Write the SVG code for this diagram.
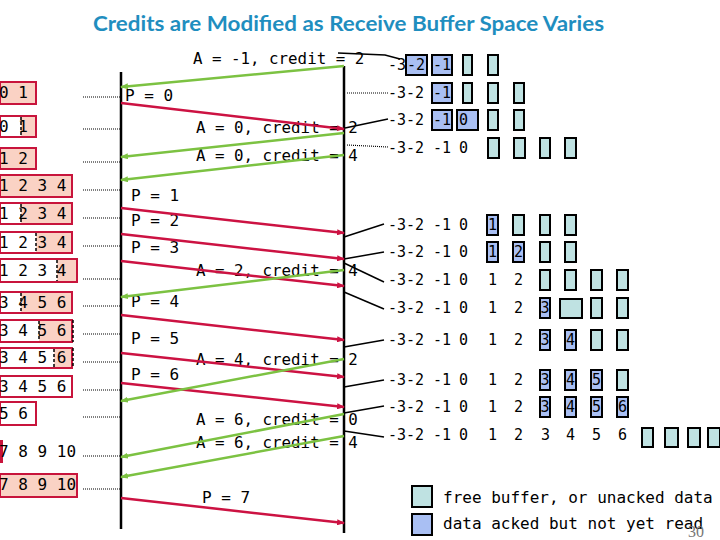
<svg xmlns="http://www.w3.org/2000/svg" width="720" height="540" viewBox="0 0 720 540">
<defs>
<style>
.t{font-family:"DejaVu Sans Mono","Liberation Mono",monospace;fill:#000}
.l16{font-size:16px}
.a{font-size:15.8px}
.r{font-size:15px}
.sal{fill:#fad2c4;stroke:none}
.wh{fill:#fff;stroke:none}
.bd{fill:none;stroke:#c8143c;stroke-width:2}
.dv{stroke:#000;stroke-width:1.5;stroke-dasharray:3 2}
.cy{fill:#bfe2e2;stroke:#000;stroke-width:2}
.bl{fill:#a9bff3;stroke:#000;stroke-width:2}
.dot{stroke:#000;stroke-width:1.2;stroke-dasharray:1 1;fill:none}
.red{stroke:#cc1242;stroke-width:2.5;fill:none;marker-end:url(#ar)}
.grn{stroke:#7cc242;stroke-width:2.5;fill:none;marker-end:url(#ag)}
.blk{stroke:#000;stroke-width:1.5;fill:none}
.tl{stroke:#000;stroke-width:2.5}
</style>
<marker id="ar" viewBox="0 0 8 6" refX="7" refY="3" markerWidth="8" markerHeight="6" markerUnits="userSpaceOnUse" orient="auto"><path d="M0,0 L8,3 L0,6 z" fill="#cc1242"/></marker>
<marker id="ag" viewBox="0 0 8 6" refX="7" refY="3" markerWidth="8" markerHeight="6" markerUnits="userSpaceOnUse" orient="auto"><path d="M0,0 L8,3 L0,6 z" fill="#7cc242"/></marker>
</defs>
<rect width="720" height="540" fill="#fff"/>
<text x="348.5" y="31" text-anchor="middle" textLength="511" lengthAdjust="spacingAndGlyphs" font-family="Lato,'Open Sans',sans-serif" font-weight="bold" font-size="21" fill="#1f8ebf">Credits are Modified as Receive Buffer Space Varies</text>

<g id="timelines">
<line class="tl" x1="121" y1="72" x2="121" y2="529"/>
<line class="tl" x1="344" y1="66" x2="344" y2="533"/>
</g>

<g id="sender-buffers">
<g id="sb1"><rect class="sal" x="0" y="82" width="36" height="22"/><rect class="bd" x="0" y="82" width="36" height="22"/><text class="t l16" x="-1" y="98">0 1</text></g>
<g id="sb2"><rect class="wh" x="0" y="116" width="21" height="21"/><rect class="sal" x="21" y="116" width="15" height="21"/><rect class="bd" x="0" y="116" width="36" height="21"/><line class="dv" x1="21" y1="117" x2="21" y2="136"/><text class="t l16" x="-1" y="131.5">0 1</text></g>
<g id="sb3"><rect class="sal" x="0" y="148" width="36" height="21"/><rect class="bd" x="0" y="148" width="36" height="21"/><text class="t l16" x="-1" y="164">1 2</text></g>
<g id="sb4"><rect class="sal" x="0" y="175" width="72" height="22"/><rect class="bd" x="0" y="175" width="72" height="22"/><text class="t l16" x="-1" y="191">1 2 3 4</text></g>
<g id="sb5"><rect class="wh" x="0" y="203" width="21" height="21"/><rect class="sal" x="21" y="203" width="51" height="21"/><rect class="bd" x="0" y="203" width="72" height="21"/><line class="dv" x1="21" y1="204" x2="21" y2="223"/><text class="t l16" x="-1" y="219">1 2 3 4</text></g>
<g id="sb6"><rect class="wh" x="0" y="232" width="36" height="21"/><rect class="sal" x="36" y="232" width="36" height="21"/><rect class="bd" x="0" y="232" width="72" height="21"/><line class="dv" x1="36" y1="233" x2="36" y2="252"/><text class="t l16" x="-1" y="248">1 2 3 4</text></g>
<g id="sb7"><rect class="wh" x="0" y="259" width="57" height="23"/><rect class="sal" x="57" y="259" width="20" height="23"/><rect class="bd" x="0" y="259" width="77" height="23"/><line class="dv" x1="57" y1="260" x2="57" y2="281"/><text class="t l16" x="-1" y="276">1 2 3 4</text></g>
<g id="sb8"><rect class="wh" x="0" y="292" width="21" height="21"/><rect class="sal" x="21" y="292" width="51" height="21"/><rect class="bd" x="0" y="292" width="72" height="21"/><line class="dv" x1="21" y1="293" x2="21" y2="312"/><text class="t l16" x="-1" y="308">3 4 5 6</text></g>
<g id="sb9"><rect class="wh" x="0" y="320" width="39" height="22"/><rect class="sal" x="39" y="320" width="33" height="22"/><rect class="bd" x="0" y="320" width="72" height="22"/><line class="dv" x1="39" y1="321" x2="39" y2="341"/><line class="dv" x1="73" y1="320" x2="73" y2="342"/><text class="t l16" x="-1" y="336">3 4 5 6</text></g>
<g id="sb10"><rect class="wh" x="0" y="348" width="54" height="20"/><rect class="sal" x="54" y="348" width="18" height="20"/><rect class="bd" x="0" y="348" width="72" height="20"/><line class="dv" x1="54" y1="349" x2="54" y2="367"/><line class="dv" x1="73" y1="348" x2="73" y2="368"/><text class="t l16" x="-1" y="363">3 4 5 6</text></g>
<g id="sb11"><rect class="wh" x="0" y="376" width="72" height="21"/><rect class="bd" x="0" y="376" width="72" height="21"/><text class="t l16" x="-1" y="392">3 4 5 6</text></g>
<g id="sb12"><rect class="wh" x="0" y="402" width="36" height="23"/><rect class="bd" x="0" y="402" width="36" height="23"/><text class="t l16" x="-1" y="419">5 6</text></g>
<g id="sb13"><rect x="0" y="440" width="3" height="23" fill="#c8143c"/><text class="t l16" x="-1" y="457">7 8 9 10</text></g>
<g id="sb14"><rect class="sal" x="0" y="474" width="77" height="23"/><rect class="bd" x="0" y="474" width="77" height="23"/><text class="t l16" x="-1" y="490">7 8 9 10</text></g>
</g>

<g id="sender-labels">
<text class="t l16" x="125" y="101">P = 0</text>
<text class="t l16" x="131" y="201">P = 1</text>
<text class="t l16" x="131" y="226">P = 2</text>
<text class="t l16" x="131" y="253">P = 3</text>
<text class="t l16" x="131" y="307">P = 4</text>
<text class="t l16" x="131" y="344">P = 5</text>
<text class="t l16" x="131" y="380">P = 6</text>
<text class="t l16" x="202" y="503">P = 7</text>
</g>

<g id="receiver-labels">
<text class="t a" x="193" y="64">A = -1, credit = 2</text>
<text class="t a" x="196" y="133">A = 0, credit = 2</text>
<text class="t a" x="196" y="161">A = 0, credit = 4</text>
<text class="t a" x="196" y="276">A = 2, credit = 4</text>
<text class="t a" x="196" y="365">A = 4, credit = 2</text>
<text class="t a" x="196" y="425">A = 6, credit = 0</text>
<text class="t a" x="196" y="448">A = 6, credit = 4</text>
</g>

<g id="connectors">
<g id="dotted-left">
<line class="dot" x1="83" y1="97" x2="121" y2="97"/>
<line class="dot" x1="83" y1="129" x2="121" y2="129"/>
<line class="dot" x1="83" y1="162" x2="121" y2="162"/>
<line class="dot" x1="83" y1="190" x2="121" y2="190"/>
<line class="dot" x1="83" y1="218" x2="121" y2="218"/>
<line class="dot" x1="83" y1="246" x2="121" y2="246"/>
<line class="dot" x1="83" y1="279" x2="121" y2="279"/>
<line class="dot" x1="83" y1="306" x2="121" y2="306"/>
<line class="dot" x1="83" y1="334" x2="121" y2="334"/>
<line class="dot" x1="83" y1="362" x2="121" y2="362"/>
<line class="dot" x1="83" y1="390" x2="121" y2="390"/>
<line class="dot" x1="83" y1="417" x2="121" y2="417"/>
<line class="dot" x1="83" y1="456" x2="121" y2="456"/>
<line class="dot" x1="83" y1="489" x2="121" y2="489"/>
</g>
<g id="right-links">
<polyline class="blk" points="338,53 385,55 400,59"/>
<line class="dot" x1="347" y1="93" x2="388" y2="93"/>
<line class="blk" x1="345" y1="128" x2="388" y2="119"/>
<line class="dot" x1="347" y1="145" x2="388" y2="147"/>
<line class="blk" x1="344" y1="237" x2="384" y2="224"/>
<line class="blk" x1="344" y1="259" x2="384" y2="252"/>
<line class="blk" x1="344" y1="263" x2="384" y2="282"/>
<line class="blk" x1="344" y1="292" x2="384" y2="309"/>
<line class="blk" x1="344" y1="347" x2="384" y2="340"/>
<line class="blk" x1="344" y1="387" x2="384" y2="380"/>
<line class="blk" x1="344" y1="413" x2="384" y2="406"/>
<line class="blk" x1="344" y1="431" x2="384" y2="437"/>
</g>
<g id="data-arrows">
<line class="red" x1="121" y1="103" x2="344" y2="129"/>
<line class="red" x1="121" y1="208" x2="344" y2="233"/>
<line class="red" x1="121" y1="234" x2="344" y2="259"/>
<line class="red" x1="121" y1="261" x2="344" y2="286"/>
<line class="red" x1="121" y1="315" x2="344" y2="340"/>
<line class="red" x1="121" y1="353" x2="344" y2="377"/>
<line class="red" x1="121" y1="383" x2="344" y2="407"/>
<line class="red" x1="121" y1="498" x2="344" y2="523"/>
</g>
<g id="ack-arrows">
<line class="grn" x1="344" y1="66" x2="121" y2="87"/>
<line class="grn" x1="344" y1="133" x2="121" y2="157"/>
<line class="grn" x1="344" y1="155" x2="121" y2="180"/>
<line class="grn" x1="344" y1="270" x2="121" y2="297"/>
<line class="grn" x1="344" y1="359" x2="121" y2="401"/>
<line class="grn" x1="344" y1="414" x2="121" y2="457"/>
<line class="grn" x1="344" y1="436" x2="121" y2="477"/>
</g>
</g>

<g id="receiver-buffers">
<g id="rb1">
<text class="t r" x="388" y="70">-3</text>
<rect class="bl" x="406" y="55" width="21" height="20"/><text class="t r" x="407" y="70">-2</text>
<rect class="bl" x="432" y="55" width="20" height="20"/><text class="t r" x="433" y="70">-1</text>
<rect class="cy" x="463" y="55" width="9" height="20"/><rect class="cy" x="488" y="55" width="10" height="20"/>
</g>
<g id="rb2">
<text class="t r" x="388" y="98">-3-2</text>
<rect class="bl" x="432" y="83" width="20" height="20"/><text class="t r" x="433" y="98">-1</text>
<rect class="cy" x="463" y="83" width="9" height="20"/><rect class="cy" x="488" y="83" width="10" height="20"/><rect class="cy" x="514" y="83" width="10" height="20"/>
</g>
<g id="rb3">
<text class="t r" x="388" y="125">-3-2</text>
<rect class="bl" x="432" y="110" width="20" height="20"/><text class="t r" x="433" y="125">-1</text>
<rect class="bl" x="457" y="110" width="21" height="20"/><text class="t r" x="459" y="125">0</text>
<rect class="cy" x="488" y="110" width="10" height="20"/><rect class="cy" x="514" y="110" width="10" height="20"/>
</g>
<g id="rb4">
<text class="t r" x="388" y="153">-3-2</text><text class="t r" x="433" y="153">-1</text><text class="t r" x="459" y="153">0</text>
<rect class="cy" x="488" y="138" width="11" height="20"/><rect class="cy" x="514" y="138" width="11" height="20"/><rect class="cy" x="540" y="138" width="10" height="20"/><rect class="cy" x="565" y="138" width="11" height="20"/>
</g>
<g id="rb5">
<text class="t r" x="388" y="230">-3-2</text><text class="t r" x="433" y="230">-1</text><text class="t r" x="459" y="230">0</text>
<rect class="bl" x="487" y="215" width="11" height="20"/><text class="t r" x="488" y="230">1</text>
<rect class="cy" x="513" y="215" width="11" height="20"/><rect class="cy" x="540" y="215" width="10" height="20"/><rect class="cy" x="565" y="215" width="11" height="20"/>
</g>
<g id="rb6">
<text class="t r" x="388" y="257">-3-2</text><text class="t r" x="433" y="257">-1</text><text class="t r" x="459" y="257">0</text>
<rect class="bl" x="487" y="242" width="11" height="20"/><text class="t r" x="488" y="257">1</text>
<rect class="bl" x="513" y="242" width="11" height="20"/><text class="t r" x="514" y="257">2</text>
<rect class="cy" x="540" y="242" width="10" height="20"/><rect class="cy" x="565" y="242" width="11" height="20"/>
</g>
<g id="rb7">
<text class="t r" x="388" y="285">-3-2</text><text class="t r" x="433" y="285">-1</text><text class="t r" x="459" y="285">0</text>
<text class="t r" x="488" y="285">1</text><text class="t r" x="514" y="285">2</text>
<rect class="cy" x="540" y="270" width="10" height="20"/><rect class="cy" x="565" y="270" width="11" height="20"/><rect class="cy" x="591" y="270" width="11" height="20"/><rect class="cy" x="617" y="270" width="11" height="20"/>
</g>
<g id="rb8">
<text class="t r" x="388" y="313">-3-2</text><text class="t r" x="433" y="313">-1</text><text class="t r" x="459" y="313">0</text>
<text class="t r" x="488" y="313">1</text><text class="t r" x="514" y="313">2</text>
<rect class="bl" x="540" y="298" width="10" height="20"/><text class="t r" x="540.5" y="313">3</text>
<rect class="cy" x="560" y="299" width="22" height="19"/><rect class="cy" x="591" y="298" width="11" height="20"/><rect class="cy" x="617" y="298" width="11" height="20"/>
</g>
<g id="rb9">
<text class="t r" x="388" y="345">-3-2</text><text class="t r" x="433" y="345">-1</text><text class="t r" x="459" y="345">0</text>
<text class="t r" x="488" y="345">1</text><text class="t r" x="514" y="345">2</text>
<rect class="bl" x="540" y="330" width="10" height="20"/><text class="t r" x="540.5" y="345">3</text>
<rect class="bl" x="565" y="330" width="11" height="20"/><text class="t r" x="566" y="345">4</text>
<rect class="cy" x="591" y="330" width="11" height="20"/><rect class="cy" x="617" y="330" width="11" height="20"/>
</g>
<g id="rb10">
<text class="t r" x="388" y="385">-3-2</text><text class="t r" x="433" y="385">-1</text><text class="t r" x="459" y="385">0</text>
<text class="t r" x="488" y="385">1</text><text class="t r" x="514" y="385">2</text>
<rect class="bl" x="540" y="370" width="10" height="20"/><text class="t r" x="540.5" y="385">3</text>
<rect class="bl" x="565" y="370" width="11" height="20"/><text class="t r" x="566" y="385">4</text>
<rect class="bl" x="591" y="370" width="11" height="20"/><text class="t r" x="592" y="385">5</text>
<rect class="cy" x="617" y="370" width="11" height="20"/>
</g>
<g id="rb11">
<text class="t r" x="388" y="412">-3-2</text><text class="t r" x="433" y="412">-1</text><text class="t r" x="459" y="412">0</text>
<text class="t r" x="488" y="412">1</text><text class="t r" x="514" y="412">2</text>
<rect class="bl" x="540" y="397" width="10" height="20"/><text class="t r" x="540.5" y="412">3</text>
<rect class="bl" x="565" y="397" width="11" height="20"/><text class="t r" x="566" y="412">4</text>
<rect class="bl" x="591" y="397" width="11" height="20"/><text class="t r" x="592" y="412">5</text>
<rect class="bl" x="617" y="397" width="11" height="20"/><text class="t r" x="618" y="412">6</text>
</g>
<g id="rb12">
<text class="t r" x="388" y="440">-3-2</text><text class="t r" x="433" y="440">-1</text><text class="t r" x="459" y="440">0</text>
<text class="t r" x="488" y="440">1</text><text class="t r" x="514" y="440">2</text><text class="t r" x="541" y="440">3</text><text class="t r" x="566" y="440">4</text><text class="t r" x="592" y="440">5</text><text class="t r" x="618" y="440">6</text>
<rect class="cy" x="642" y="428" width="11" height="19"/><rect class="cy" x="665" y="428" width="13" height="19"/><rect class="cy" x="688" y="428" width="12" height="19"/><rect class="cy" x="708" y="428" width="12" height="19"/>
</g>
</g>

<g id="legend">
<rect class="cy" x="412" y="486" width="20" height="21"/>
<text class="t l16" x="443" y="503">free buffer, or unacked data</text>
<rect class="bl" x="412" y="514" width="20" height="21"/>
<text class="t l16" x="443" y="529">data acked but not yet read</text>
</g>
<text x="688" y="537" font-family="'Liberation Serif',serif" font-size="16" fill="#777">30</text>
</svg>
